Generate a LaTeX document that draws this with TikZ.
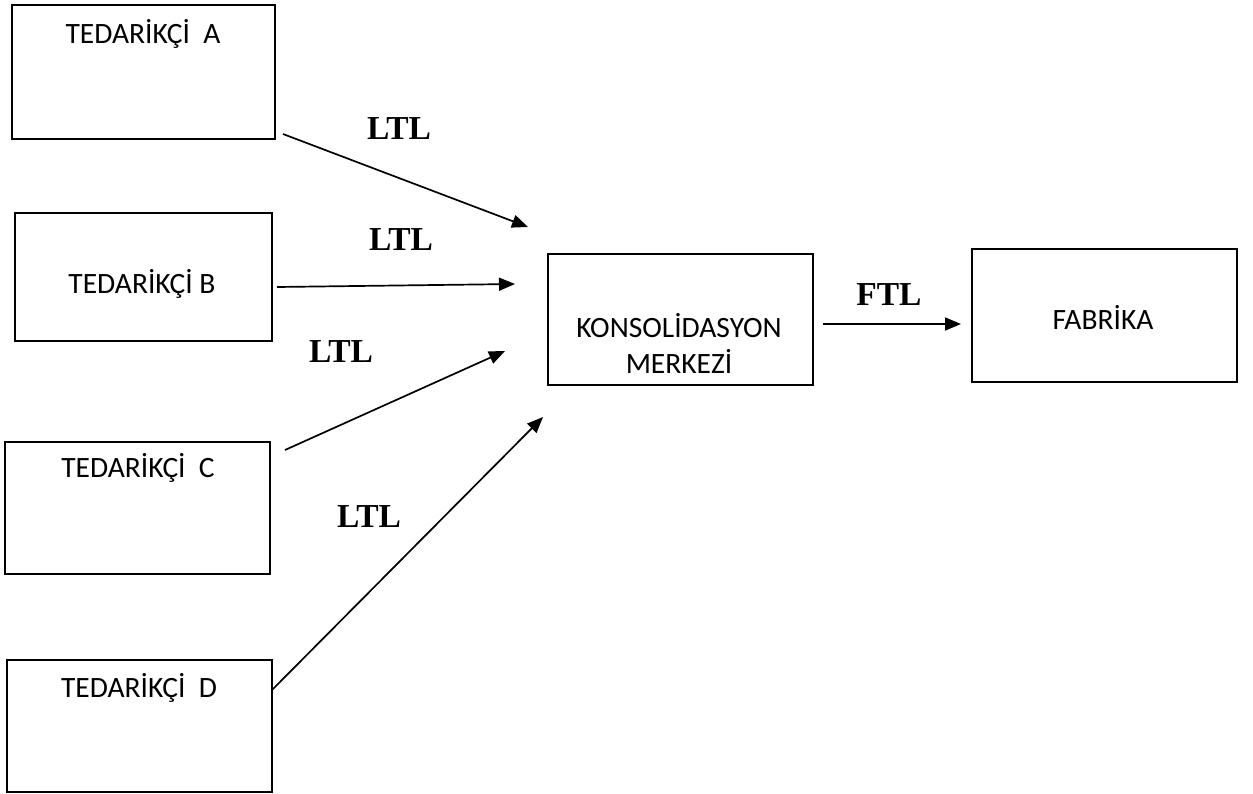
\documentclass[tikz,border=0pt]{standalone}
\usepackage{fontspec}
\setmainfont{Carlito}
\newfontfamily\lblfont{Liberation Serif}
\usetikzlibrary{arrows.meta}
\begin{document}
\begin{tikzpicture}[x=1pt,y=-1pt,
  box/.style={draw, line width=1.7pt, anchor=north west, inner sep=0pt},
  txt/.style={font=\fontsize{29.5}{36}\selectfont, inner sep=0pt, anchor=base},
  lbl/.style={font=\lblfont\bfseries\fontsize{33.5}{40}\selectfont, inner sep=0pt, anchor=base},
  arr/.style={line width=1.7pt, -{Triangle[length=16pt,width=13pt]}}]
\useasboundingbox (0,0) rectangle (1253,793);
% boxes
\node[box, minimum width=263pt, minimum height=134pt] (A) at (11,4) {};
\node[box, minimum width=257pt, minimum height=128pt] (B) at (14,212) {};
\node[box, minimum width=265pt, minimum height=132pt] (C) at (4,441) {};
\node[box, minimum width=265pt, minimum height=132pt] (D) at (6,659) {};
\node[box, minimum width=265pt, minimum height=131pt] (K) at (547,253) {};
\node[box, minimum width=265pt, minimum height=133pt] (F) at (971,248) {};
% box texts
\node[txt] (tA) at (143,43) {TEDARİKÇİ\ \ A};
\node[txt] (tB) at (142,293) {TEDARİKÇİ B};
\node[txt] (tC) at (138,477) {TEDARİKÇİ\ \ C};
\node[txt] (tD) at (139,697) {TEDARİKÇİ\ \ D};
\node[txt] (tK1) at (679,337) {KONSOLİDASYON};
\node[txt] (tK2) at (679,373) {MERKEZİ};
\node[txt] (tF) at (1103,329) {FABRİKA};
% connector end points
\coordinate (aS) at (283,134); \coordinate (aE) at (528,227);
\coordinate (bS) at (277,287); \coordinate (bE) at (515,284);
\coordinate (cS) at (285,450); \coordinate (cE) at (505,351);
\coordinate (dS) at (272,690); \coordinate (dE) at (543,417);
\coordinate (kS) at (823,324); \coordinate (kE) at (961,324);
\draw[arr] (aS) -- (aE);
\draw[arr] (bS) -- (bE);
\draw[arr] (cS) -- (cE);
\draw[arr] (dS) -- (dE);
\draw[arr] (kS) -- (kE);
% labels
\node[lbl] (l1) at (399,139) {LTL};
\node[lbl] (l2) at (401,250) {LTL};
\node[lbl] (l3) at (341,362) {LTL};
\node[lbl] (l4) at (369,527) {LTL};
\node[lbl] (l5) at (889,305) {FTL};
\end{tikzpicture}
\end{document}
